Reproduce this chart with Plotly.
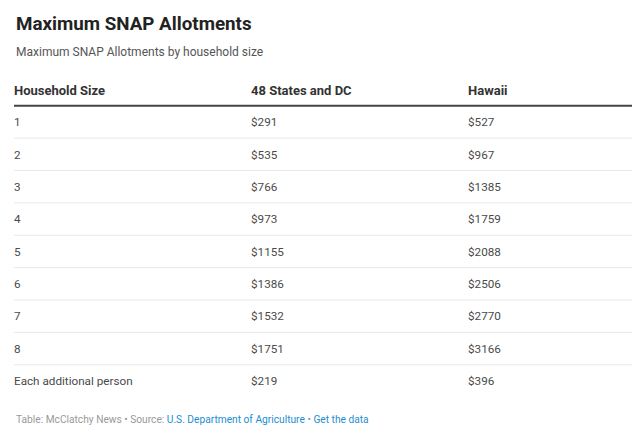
import plotly.graph_objects as go

title = "Maximum SNAP Allotments"
subtitle = "Maximum SNAP Allotments by household size"
headers = ["Household Size", "48 States and DC", "Hawaii"]
household_size = ["1", "2", "3", "4", "5", "6", "7", "8", "Each additional person"]
states_dc = [291, 535, 766, 973, 1155, 1386, 1532, 1751, 219]
hawaii = [527, 967, 1385, 1759, 2088, 2506, 2770, 3166, 396]

# page has an 8px body margin; figure coordinates = page coordinates - 8
W, H = 632, 434
OFF = 8
col_x = [14 - OFF, 251 - OFF, 468 - OFF]
FONT = "Roboto, 'Open Sans', Arial, sans-serif"

rows = list(range(1, len(household_size) + 1))
columns = [household_size, [f"${v}" for v in states_dc], [f"${v}" for v in hawaii]]

TXT_SHIFT = 0.04  # text sits a touch lower than the row centre
fig = go.Figure()
for cx, h, vals in zip(col_x, headers, columns):
    fig.add_trace(go.Scatter(
        x=[cx], y=[0 + 0.06], text=[f"<b>{h}</b>"],
        mode="text", textposition="middle right",
        textfont=dict(family=FONT, size=13, color="#333"),
        hoverinfo="skip", showlegend=False,
    ))
    fig.add_trace(go.Scatter(
        x=[cx] * len(vals), y=[r + TXT_SHIFT for r in rows], text=vals,
        mode="text", textposition="middle right",
        textfont=dict(family=FONT, size=11.7, color="#4a4a4a"),
        hoverinfo="skip", showlegend=False,
    ))

# thick header line
fig.add_shape(type="line", x0=14 - OFF, x1=632 - OFF, y0=0.5, y1=0.5, xref="x", yref="y",
              line=dict(color="#444", width=2))
# row separators
for r in rows[:-1]:
    fig.add_shape(type="line", x0=14 - OFF, x1=632 - OFF, y0=r + 0.5, y1=r + 0.5,
                  xref="x", yref="y", line=dict(color="#e8e8e8", width=1))

b = 32.375
a = 89.6 - OFF
fig.update_layout(
    width=W, height=H,
    margin=dict(l=0, r=0, t=0, b=0),
    paper_bgcolor="white", plot_bgcolor="white",
    xaxis=dict(range=[0, W], visible=False, fixedrange=True),
    yaxis=dict(range=[(H - a) / b, -a / b], visible=False, fixedrange=True),
    annotations=[
        dict(text=f"<b>{title}</b>", x=(14 - OFF) / W, y=1 - (24 - OFF) / H,
             xref="paper", yref="paper", xanchor="left", yanchor="middle", showarrow=False,
             font=dict(family=FONT, size=18.8, color="#222")),
        dict(text=subtitle, x=(14 - OFF) / W, y=1 - (51.5 - OFF) / H,
             xref="paper", yref="paper", xanchor="left", yanchor="middle", showarrow=False,
             font=dict(family=FONT, size=12, color="#555")),
        dict(text="Table: McClatchy News • Source: <span style='color:#1d8ecf'>U.S. Department of Agriculture</span>"
                  " • <span style='color:#1d8ecf'>Get the data</span>",
             x=(14 - OFF) / W, y=1 - (419 - OFF) / H,
             xref="paper", yref="paper", xanchor="left", yanchor="middle", showarrow=False,
             font=dict(family=FONT, size=10.2, color="#999")),
    ],
)

fig.write_html("out.html")
